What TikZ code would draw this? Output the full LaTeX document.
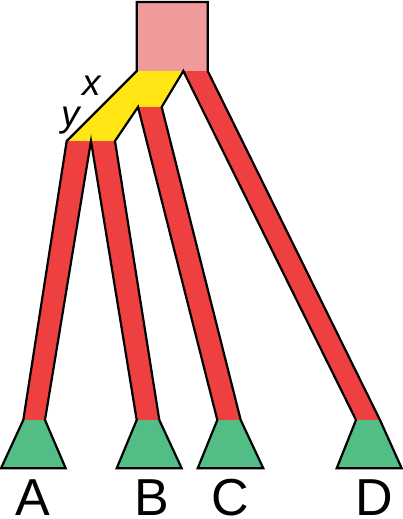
\documentclass[tikz,border=0pt]{standalone}
\usepackage{fontspec}
\setmainfont{Liberation Sans}
\begin{document}
\begin{tikzpicture}[x=1pt,y=-1pt,
  outline/.style={draw=black,line width=2.2pt,line join=miter},
  leaf/.style={font=\fontsize{52}{52}\selectfont,anchor=base,inner sep=0pt},
  axis/.style={font=\fontsize{37}{37}\selectfont\itshape,anchor=base,inner sep=0pt}]
\definecolor{pinkc}{RGB}{240,155,155}
\definecolor{yellowc}{RGB}{255,230,20}
\definecolor{redc}{RGB}{238,64,64}
\definecolor{greenc}{RGB}{82,190,133}
\useasboundingbox (0,0) rectangle (403,519);
% key points
\coordinate (p1) at (136.7,71);
\coordinate (p2) at (183.3,71);
\coordinate (p3) at (161.7,107);
\coordinate (p4) at (138,107);
\coordinate (p5) at (115,141);
\coordinate (p6) at (66.7,141);
\coordinate (pm) at (91,141);
\coordinate (sq1) at (136.7,2);
\coordinate (sq2) at (207.7,2);
\coordinate (sq3) at (207.7,71);
% green tops/bottoms
\coordinate (a1) at (23.3,420); \coordinate (a2) at (45,420);
\coordinate (a3) at (65.7,468.3); \coordinate (a4) at (1,468.3);
\coordinate (b1) at (136.7,420); \coordinate (b2) at (159.3,420);
\coordinate (b3) at (181.7,468.3); \coordinate (b4) at (116.7,468.3);
\coordinate (c1) at (217.3,420); \coordinate (c2) at (240.7,420);
\coordinate (c3) at (263.3,468.3); \coordinate (c4) at (197.7,468.3);
\coordinate (d1) at (356,420); \coordinate (d2) at (380,420);
\coordinate (d3) at (401.7,468.3); \coordinate (d4) at (336.7,468.3);
% fills
\fill[pinkc] (sq1) -- (sq2) -- (sq3) -- (p1) -- cycle;
\fill[yellowc] (p1) -- (p2) -- (p3) -- (p4) -- (p5) -- (p6) -- cycle;
\fill[redc] (p2) -- (sq3) -- (d2) -- (d1) -- cycle;
\fill[redc] (p4) -- (p3) -- (c2) -- (c1) -- cycle;
\fill[redc] (pm) -- (p5) -- (b2) -- (b1) -- cycle;
\fill[redc] (p6) -- (pm) -- (a2) -- (a1) -- cycle;
\fill[greenc] (a1) -- (a2) -- (a3) -- (a4) -- cycle;
\fill[greenc] (b1) -- (b2) -- (b3) -- (b4) -- cycle;
\fill[greenc] (c1) -- (c2) -- (c3) -- (c4) -- cycle;
\fill[greenc] (d1) -- (d2) -- (d3) -- (d4) -- cycle;
% outline
\draw[outline] (p6) -- (p1) -- (sq1) -- (sq2) -- (sq3) -- (d2) -- (d3) -- (d4) -- (d1)
  -- (p2) -- (p3) -- (c2) -- (c3) -- (c4) -- (c1) -- (p4) -- (p5)
  -- (b2) -- (b3) -- (b4) -- (b1) -- (pm) -- (a2) -- (a3) -- (a4) -- (a1) -- cycle;
% labels
\node[axis] (lx) at (92,95) {x};
\node[axis] (ly) at (70.5,126) {y};
\node[leaf] (lA) at (33.3,515.5) {A};
\node[leaf] (lB) at (151.7,515.5) {B};
\node[leaf] (lC) at (230,515.5) {C};
\node[leaf] (lD) at (374,515.5) {D};
\end{tikzpicture}
\end{document}
